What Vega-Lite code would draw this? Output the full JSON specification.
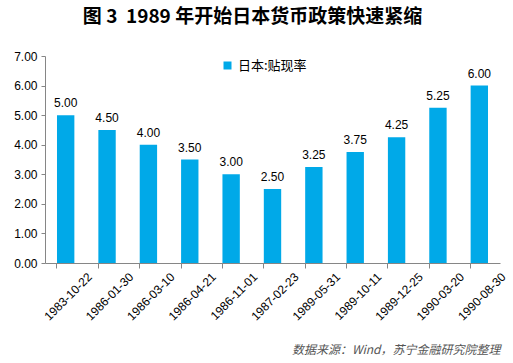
{
  "$schema": "https://vega.github.io/schema/vega-lite/v6.json",
  "width": 455,
  "height": 207,
  "autosize": {"type": "none"},
  "padding": {"left": 45, "top": 56, "right": 13, "bottom": 100},
  "background": "white",
  "config": {
    "view": {"stroke": null},
    "font": "Noto Sans CJK SC"
  },
  "title": {
    "text": "图 3\u00a0\u00a01989 年开始日本货币政策快速紧缩",
    "fontSize": 19,
    "fontWeight": "bold",
    "font": "Noto Sans CJK SC",
    "color": "#000000",
    "anchor": "middle",
    "dx": -20,
    "offset": 23
  },
  "data": {
    "values": [
      {"date": "1983-10-22", "rate": 5.00, "series": "日本:贴现率"},
      {"date": "1986-01-30", "rate": 4.50, "series": "日本:贴现率"},
      {"date": "1986-03-10", "rate": 4.00, "series": "日本:贴现率"},
      {"date": "1986-04-21", "rate": 3.50, "series": "日本:贴现率"},
      {"date": "1986-11-01", "rate": 3.00, "series": "日本:贴现率"},
      {"date": "1987-02-23", "rate": 2.50, "series": "日本:贴现率"},
      {"date": "1989-05-31", "rate": 3.25, "series": "日本:贴现率"},
      {"date": "1989-10-11", "rate": 3.75, "series": "日本:贴现率"},
      {"date": "1989-12-25", "rate": 4.25, "series": "日本:贴现率"},
      {"date": "1990-03-20", "rate": 5.25, "series": "日本:贴现率"},
      {"date": "1990-08-30", "rate": 6.00, "series": "日本:贴现率"}
    ]
  },
  "encoding": {
    "x": {
      "field": "date",
      "type": "ordinal",
      "sort": null,
      "scale": {"paddingInner": 0.58, "paddingOuter": 0.29},
      "axis": {
        "title": "数据来源：Wind，苏宁金融研究院整理",
        "titleAnchor": "end",
        "titleFontStyle": "italic",
        "titleFontWeight": "normal",
        "titleFontSize": 12,
        "titleColor": "#555555",
        "titlePadding": 22,
        "labelAngle": -45,
        "labelFontSize": 12,
        "labelColor": "#000000",
        "labelFont": "Liberation Sans",
        "bandPosition": 0,
        "labelOffset": 20.7,
        "labelPadding": 3,
        "domainColor": "#868686",
        "tickColor": "#868686",
        "tickSize": 5
      }
    },
    "y": {
      "field": "rate",
      "type": "quantitative",
      "scale": {"domain": [0, 7]},
      "axis": {
        "title": null,
        "values": [0, 1, 2, 3, 4, 5, 6, 7],
        "format": ".2f",
        "grid": false,
        "labelFontSize": 12,
        "labelColor": "#000000",
        "labelFont": "Liberation Sans",
        "domainColor": "#868686",
        "tickColor": "#868686",
        "tickSize": 4,
        "labelPadding": 4
      }
    }
  },
  "layer": [
    {
      "mark": {"type": "bar"},
      "encoding": {
        "color": {
          "field": "series",
          "type": "nominal",
          "scale": {"range": ["#00A9E8"]},
          "legend": {
            "title": null,
            "orient": "none",
            "legendX": 176,
            "legendY": 3,
            "symbolType": "square",
            "symbolSize": 64,
            "labelFontSize": 13,
            "labelColor": "#000000",
            "labelFont": "Noto Sans CJK SC"
          }
        }
      }
    },
    {
      "mark": {"type": "text", "dy": -12, "fontSize": 12, "font": "Liberation Sans", "color": "#000000"},
      "encoding": {
        "text": {"field": "rate", "type": "quantitative", "format": ".2f"}
      }
    }
  ]
}
